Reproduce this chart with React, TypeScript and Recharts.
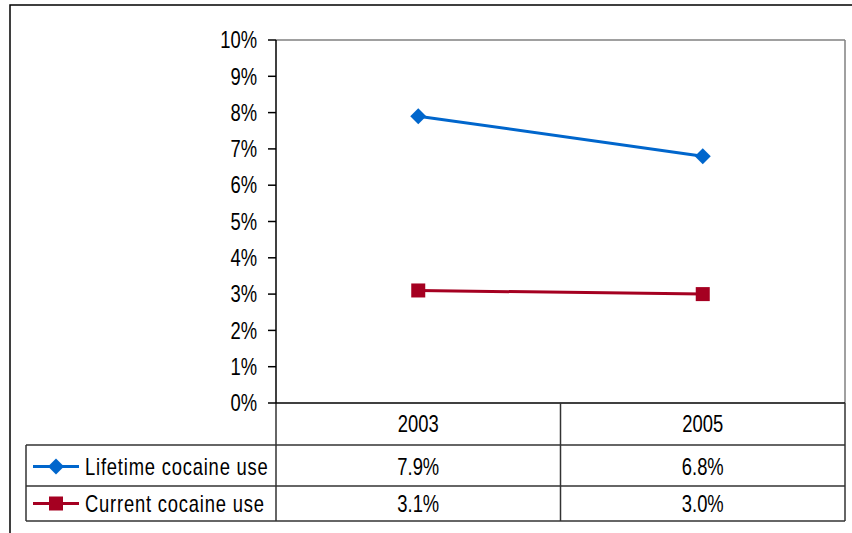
import React from 'react';
import { LineChart, Line, XAxis, YAxis, Customized } from 'recharts';

const years = ['2003', '2005'];
const lifetime = [7.9, 6.8];
const current = [3.1, 3.0];
const seriesNames = ['Lifetime cocaine use', 'Current cocaine use'];
const yTicks = [0, 1, 2, 3, 4, 5, 6, 7, 8, 9, 10];

const data = years.map((year, i) => ({ year, lifetime: lifetime[i], current: current[i] }));

const W = 852;
const H = 533;
const M = { top: 40, right: 7, bottom: 0, left: 0 };
const YW = 276;
const XH = 130;
const PLOT_L = M.left + YW;
const PLOT_R = W - M.right;
const PLOT_T = M.top;
const PLOT_B = H - M.bottom - XH;
const PLOT_W = PLOT_R - PLOT_L;
const COL_W = PLOT_W / years.length;
const ROW1 = 445;
const ROW2 = 486;
const TABLE_B = 521;
const TABLE_L = 26;

const FONT = '"Liberation Sans", Arial, sans-serif';
const FS = 23;
const SX = 0.8;
const BLUE = '#0066CC';
const RED = '#A50021';
const LINE = '#333333';

const SText = (props: any) => {
  const { x, y, anchor, children, spacing } = props;
  return (
    <text
      transform={`translate(${x},${y}) scale(${SX},1)`}
      x={0}
      y={0}
      dy="0.36em"
      textAnchor={anchor || 'start'}
      fontFamily={FONT}
      fontSize={FS}
      letterSpacing={spacing || 0}
      fill="#000"
    >
      {children}
    </text>
  );
};

const Diamond = (props: any) => {
  const { cx, cy, fill } = props;
  if (cx == null || cy == null) return null;
  const r = 8;
  return <path d={`M${cx},${cy - r}L${cx + r},${cy}L${cx},${cy + r}L${cx - r},${cy}Z`} fill={fill} />;
};

const Square = (props: any) => {
  const { cx, cy, fill } = props;
  if (cx == null || cy == null) return null;
  const s = 14;
  return <rect x={cx - s / 2} y={cy - s / 2} width={s} height={s} fill={fill} />;
};

const XTick = (props: any) => {
  const { x, payload } = props;
  const i = payload.index ?? props.index ?? 0;
  const values = [lifetime[i], current[i]];
  const rowCenters = [(ROW1 + ROW2) / 2 + 1, (ROW2 + TABLE_B) / 2];
  return (
    <g>
      <SText x={x} y={(PLOT_B + ROW1) / 2} anchor="middle">
        {payload.value}
      </SText>
      {values.map((v, r) => (
        <SText key={r} x={x} y={rowCenters[r]} anchor="middle">
          {v.toFixed(1)}%
        </SText>
      ))}
      <line x1={x + COL_W / 2} x2={x + COL_W / 2} y1={PLOT_B} y2={TABLE_B} stroke={LINE} strokeWidth={1.5} />
    </g>
  );
};

const YTick = (props: any) => {
  const { x, y, payload } = props;
  return (
    <SText x={x} y={y} anchor="end">
      {payload.value}%
    </SText>
  );
};

const Frame = () => {
  const legendRows = [
    { name: seriesNames[0], color: BLUE, shape: 'diamond', y: (ROW1 + ROW2) / 2 + 1 },
    { name: seriesNames[1], color: RED, shape: 'square', y: (ROW2 + TABLE_B) / 2 },
  ];
  return (
    <g>
      <rect x={10} y={5} width={W + 20} height={H + 20} fill="none" stroke="#000" strokeWidth={1.5} />
      <line x1={PLOT_L} x2={PLOT_R} y1={PLOT_T} y2={PLOT_T} stroke="#808080" strokeWidth={1.5} />
      <line x1={PLOT_R} x2={PLOT_R} y1={PLOT_T} y2={PLOT_B} stroke="#808080" strokeWidth={1.5} />
      <line x1={PLOT_L} x2={PLOT_L} y1={PLOT_B} y2={TABLE_B} stroke={LINE} strokeWidth={1.5} />
      {[ROW1, ROW2, TABLE_B].map((yy) => (
        <line key={yy} x1={TABLE_L} x2={PLOT_R} y1={yy} y2={yy} stroke={LINE} strokeWidth={1.5} />
      ))}
      <line x1={TABLE_L} x2={TABLE_L} y1={ROW1} y2={TABLE_B} stroke={LINE} strokeWidth={1.5} />
      {legendRows.map((r) => (
        <g key={r.name}>
          <line x1={33} x2={79} y1={r.y} y2={r.y} stroke={r.color} strokeWidth={3} />
          {r.shape === 'diamond' ? <Diamond cx={56} cy={r.y} fill={r.color} /> : <Square cx={56} cy={r.y} fill={r.color} />}
          <SText x={85} y={r.y} spacing={1.0}>
            {r.name}
          </SText>
        </g>
      ))}
    </g>
  );
};

export default function App() {
  return (
    <div style={{ position: 'absolute', left: 0, top: 0, width: W, height: H, background: '#fff' }}>
      <LineChart width={W} height={H} data={data} margin={M}>
        <Customized component={Frame} />
        <XAxis
          dataKey="year"
          height={XH}
          interval={0}
          padding={{ left: COL_W / 2, right: COL_W / 2 }}
          axisLine={{ stroke: '#000', strokeWidth: 1.5 }}
          tickLine={false}
          tick={<XTick />}
        />
        <YAxis
          width={YW}
          domain={[0, 10]}
          ticks={yTicks}
          interval={0}
          tickSize={8}
          tickMargin={11}
          axisLine={{ stroke: '#000', strokeWidth: 1.5 }}
          tickLine={{ stroke: '#000', strokeWidth: 1.5 }}
          tick={<YTick />}
        />
        <Line
          dataKey="lifetime"
          name={seriesNames[0]}
          stroke={BLUE}
          strokeWidth={3}
          dot={<Diamond fill={BLUE} />}
          activeDot={false}
          isAnimationActive={false}
        />
        <Line
          dataKey="current"
          name={seriesNames[1]}
          stroke={RED}
          strokeWidth={3}
          dot={<Square fill={RED} />}
          activeDot={false}
          isAnimationActive={false}
        />
      </LineChart>
    </div>
  );
}
